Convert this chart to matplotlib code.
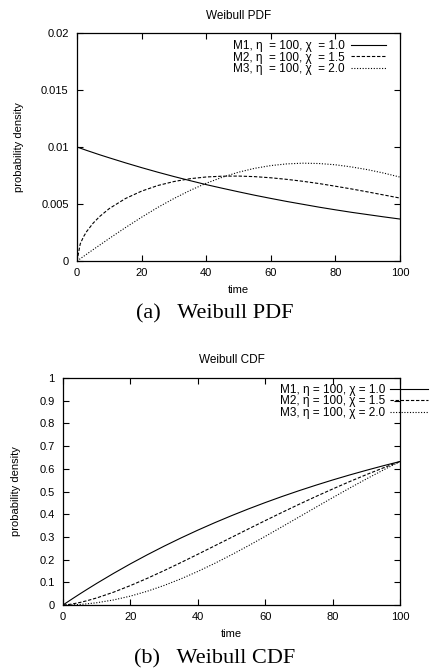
import matplotlib
matplotlib.use('Agg')
import matplotlib.pyplot as plt
from matplotlib.ticker import FormatStrFormatter

plt.rcParams['font.family'] = ['Liberation Sans', 'DejaVu Sans']
plt.rcParams['font.size'] = 8

# values
time = [0, 1, 2, 3, 5, 7, 10, 15, 20, 25, 30, 35, 40, 45, 50,
        55, 60, 65, 70, 75, 80, 85, 90, 95, 100]

pdf_m1 = [0.0100, 0.0099, 0.0098, 0.0097, 0.00951, 0.00932, 0.00905, 0.00861, 0.00819,
          0.00779, 0.00741, 0.00705, 0.00670, 0.00638, 0.00607, 0.00577, 0.00549,
          0.00522, 0.00497, 0.00472, 0.00449, 0.00427, 0.00407, 0.00387, 0.00368]
pdf_m2 = [0.0, 0.0015, 0.00212, 0.00259, 0.00332, 0.00390, 0.00460, 0.00548, 0.00613,
          0.00662, 0.00697, 0.00722, 0.00737, 0.00744, 0.00745, 0.00740, 0.00730,
          0.00716, 0.00699, 0.00679, 0.00656, 0.00632, 0.00606, 0.00579, 0.00552]
pdf_m3 = [0.0, 0.0002, 0.0004, 0.0006, 0.00100, 0.00139, 0.00198, 0.00293, 0.00384,
          0.00470, 0.00548, 0.00619, 0.00682, 0.00735, 0.00779, 0.00813, 0.00837,
          0.00852, 0.00858, 0.00855, 0.00844, 0.00825, 0.00801, 0.00771, 0.00736]

cdf_m1 = [0.0, 0.00995, 0.0198, 0.0296, 0.0488, 0.0676, 0.0952, 0.1393, 0.1813,
          0.2212, 0.2592, 0.2953, 0.3297, 0.3624, 0.3935, 0.4231, 0.4512,
          0.4780, 0.5034, 0.5276, 0.5507, 0.5726, 0.5934, 0.6133, 0.6321]
cdf_m2 = [0.0, 0.0010, 0.0028, 0.0052, 0.0111, 0.0184, 0.0311, 0.0564, 0.0856,
          0.1175, 0.1515, 0.1870, 0.2235, 0.2606, 0.2978, 0.3350, 0.3717,
          0.4079, 0.4433, 0.4777, 0.5110, 0.5433, 0.5742, 0.6038, 0.6321]
cdf_m3 = [0.0, 0.0001, 0.0004, 0.0009, 0.0025, 0.0049, 0.00995, 0.0222, 0.0392,
          0.0606, 0.0861, 0.1153, 0.1479, 0.1833, 0.2212, 0.2610, 0.3023,
          0.3446, 0.3874, 0.4302, 0.4727, 0.5145, 0.5551, 0.5944, 0.6321]

labels_top = ['M1, η  = 100, χ  = 1.0', 'M2, η  = 100, χ  = 1.5', 'M3, η  = 100, χ  = 2.0']
labels_bottom = ['M1, η = 100, χ = 1.0', 'M2, η = 100, χ = 1.5', 'M3, η = 100, χ = 2.0']

W, H = 430, 672
fig = plt.figure(figsize=(W / 100, H / 100), dpi=100)


def px_axes(l, t, r, b):
    return fig.add_axes([l / W, 1 - b / H, (r - l) / W, (b - t) / H])


def style(ax, xlabel_y, ylabel_x):
    ax.set_xlim(0, 100)
    ax.set_xticks([0, 20, 40, 60, 80, 100])
    ax.tick_params(direction='in', top=True, right=True, length=4.5, width=0.8,
                   labelsize=8)
    ax.tick_params(axis='x', pad=5)
    ax.tick_params(axis='y', pad=6)
    ax.yaxis.set_major_formatter(FormatStrFormatter('%g'))
    for s in ax.spines.values():
        s.set_linewidth(0.9)
    ax.set_xlabel('time', fontsize=8)
    ax.set_ylabel('probability density', fontsize=8)
    ax.xaxis.set_label_coords(0.5, xlabel_y)
    ax.yaxis.set_label_coords(ylabel_x, 0.5)


styles = [dict(ls='-'), dict(ls=(0, (3, 1.6))), dict(ls=(0, (1, 1.5)))]

# --- (a) PDF
ax1 = px_axes(77, 33, 400, 261)
for y, lab, st in zip([pdf_m1, pdf_m2, pdf_m3], labels_top, styles):
    ax1.plot(time, y, color='black', lw=0.8, label=lab, **st)
ax1.set_ylim(0, 0.02)
ax1.set_yticks([0, 0.005, 0.01, 0.015, 0.02])
style(ax1, -0.105, -0.165)
ax1.legend(loc='upper right', bbox_to_anchor=(0.958, 0.968), frameon=False,
           markerfirst=False, handlelength=3.0, handletextpad=0.5,
           labelspacing=-0.06, borderpad=0, borderaxespad=0, fontsize=8.5)
fig.text((77 + 400) / 2 / W, 1 - 16 / H, 'Weibull PDF', ha='center', va='center',
         fontsize=8.5)

# --- (b) CDF
ax2 = px_axes(63, 378, 400, 605)
for y, lab, st in zip([cdf_m1, cdf_m2, cdf_m3], labels_bottom, styles):
    ax2.plot(time, y, color='black', lw=0.8, label=lab, **st)
ax2.set_ylim(0, 1)
ax2.set_yticks([0, 0.1, 0.2, 0.3, 0.4, 0.5, 0.6, 0.7, 0.8, 0.9, 1])
style(ax2, -0.105, -0.125)
ax2.legend(loc='upper right', bbox_to_anchor=(1.083, 0.975), frameon=False,
           markerfirst=False, handlelength=3.2, handletextpad=0.4,
           labelspacing=-0.04, borderpad=0, borderaxespad=0, fontsize=8.5)
fig.text((63 + 400) / 2 / W, 1 - 360 / H, 'Weibull CDF', ha='center', va='center',
         fontsize=8.5)

# captions
fig.text(215 / W, 1 - 318 / H, '(a)   Weibull PDF', ha='center', va='baseline',
         family='Liberation Serif', fontsize=16)
fig.text(215 / W, 1 - 663 / H, '(b)   Weibull CDF', ha='center', va='baseline',
         family='Liberation Serif', fontsize=16)

fig.savefig('out.png', dpi=100)
